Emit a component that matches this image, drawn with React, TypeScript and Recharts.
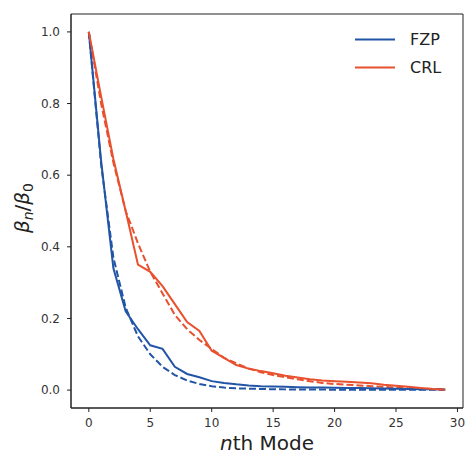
import React from "react";
import { LineChart, Line, XAxis, YAxis, ReferenceArea, Legend } from "recharts";

const modes = [0, 1, 2, 3, 4, 5, 6, 7, 8, 9, 10, 11, 12, 13, 14, 15, 16, 17, 18, 19, 20, 21, 22, 23, 24, 25, 26, 27, 28, 29];
const fzpSolid = [1.0, 0.64, 0.34, 0.22, 0.17, 0.125, 0.115, 0.065, 0.045, 0.036, 0.025, 0.02, 0.016, 0.013, 0.011, 0.01, 0.009, 0.008, 0.0075, 0.007, 0.0065, 0.006, 0.0055, 0.005, 0.0045, 0.004, 0.003, 0.0025, 0.002, 0.0015];
const fzpDashed = [1.0, 0.63, 0.37, 0.23, 0.15, 0.1, 0.065, 0.042, 0.027, 0.017, 0.011, 0.007, 0.005, 0.004, 0.003, 0.0025, 0.002, 0.002, 0.0015, 0.0015, 0.001, 0.001, 0.001, 0.001, 0.001, 0.001, 0.001, 0.001, 0.001, 0.001];
const crlSolid = [1.0, 0.82, 0.645, 0.5, 0.35, 0.33, 0.29, 0.24, 0.19, 0.165, 0.11, 0.09, 0.07, 0.06, 0.053, 0.047, 0.04, 0.035, 0.03, 0.027, 0.025, 0.023, 0.021, 0.019, 0.015, 0.012, 0.009, 0.006, 0.003, 0.001];
const crlDashed = [1.0, 0.8, 0.635, 0.5, 0.41, 0.33, 0.27, 0.21, 0.17, 0.14, 0.115, 0.09, 0.075, 0.06, 0.05, 0.042, 0.036, 0.03, 0.025, 0.02, 0.017, 0.015, 0.013, 0.011, 0.009, 0.007, 0.005, 0.004, 0.003, 0.002];

const xTicks = [0, 5, 10, 15, 20, 25, 30];
const yTicks = [0, 0.2, 0.4, 0.6, 0.8, 1.0];
const seriesNames = ["FZP", "CRL"];

const BLUE = "#2255a6";
const RED = "#e8502e";
const FONT = "DejaVu Sans";

const data = modes.map((n, i) => ({
  n,
  fzpSolid: fzpSolid[i],
  fzpDashed: fzpDashed[i],
  crlSolid: crlSolid[i],
  crlDashed: crlDashed[i],
}));

const LegendBox = () => (
  <svg width={110} height={60} style={{ overflow: "visible", display: "block" }}>
    {seriesNames.map((name, i) => (
      <g key={name} transform={`translate(0, ${i * 28})`}>
        <line x1={5} x2={45} y1={13.5} y2={13.5} stroke={i === 0 ? BLUE : RED} strokeWidth={2} />
        <text x={60} y={13.5} dy="0.36em" fontFamily={FONT} fontSize={16} fill="#222">
          {name}
        </text>
      </g>
    ))}
  </svg>
);

const XLabel = (props: any) => {
  const vb = props.viewBox || {};
  const cx = vb.x + vb.width / 2;
  return (
    <text x={cx} y={450} textAnchor="middle" fontFamily={FONT} fontSize={20} fill="#222">
      <tspan fontStyle="italic">n</tspan>
      <tspan>th Mode</tspan>
    </text>
  );
};

const YLabel = () => (
  <text
    x={0}
    y={0}
    transform="translate(29, 208) rotate(-90)"
    textAnchor="middle"
    fontFamily={FONT}
    fontSize={20}
    fill="#222"
  >
    <tspan fontStyle="italic">β</tspan>
    <tspan fontStyle="italic" fontSize={14} dy={4}>n</tspan>
    <tspan dy={-4}>/</tspan>
    <tspan fontStyle="italic">β</tspan>
    <tspan fontSize={14} dy={4}>0</tspan>
  </text>
);

export default function App() {
  return (
    <div style={{ position: "absolute", left: 0, top: 0, background: "#fff" }}>
      <LineChart
        width={467}
        height={457}
        data={data}
        margin={{ top: 14, right: 4, left: 0, bottom: 0 }}
      >
        <XAxis
          dataKey="n"
          type="number"
          domain={[-1.45, 30.45]}
          ticks={xTicks}
          allowDataOverflow
          height={49}
          tickSize={4}
          tickMargin={6}
          stroke="#222"
          tick={{ fontSize: 12, fill: "#333", fontFamily: FONT }}
          label={<XLabel />}
        />
        <YAxis
          type="number"
          domain={[-0.05, 1.05]}
          ticks={yTicks}
          allowDataOverflow
          width={71}
          tickSize={4}
          tickMargin={7}
          stroke="#222"
          tickFormatter={(v: number) => v.toFixed(1)}
          tick={{ fontSize: 12, fill: "#333", fontFamily: FONT }}
          label={<YLabel />}
        />
        <ReferenceArea
          x1={-1.45}
          x2={30.45}
          y1={-0.05}
          y2={1.05}
          fill="none"
          fillOpacity={0}
          stroke="#222"
          strokeWidth={1}
        />
        <Line type="linear" dataKey="fzpDashed" stroke={BLUE} strokeWidth={2} strokeDasharray="7 3" dot={false} isAnimationActive={false} />
        <Line type="linear" dataKey="crlDashed" stroke={RED} strokeWidth={2} strokeDasharray="7 3" dot={false} isAnimationActive={false} />
        <Line type="linear" dataKey="fzpSolid" stroke={BLUE} strokeWidth={2} dot={false} isAnimationActive={false} />
        <Line type="linear" dataKey="crlSolid" stroke={RED} strokeWidth={2} dot={false} isAnimationActive={false} />
        <Legend
          layout="vertical"
          align="center"
          verticalAlign="middle"
          content={<LegendBox />}
          wrapperStyle={{ position: "absolute", left: 350, top: 26, width: 110, height: 60 }}
        />
      </LineChart>
    </div>
  );
}
